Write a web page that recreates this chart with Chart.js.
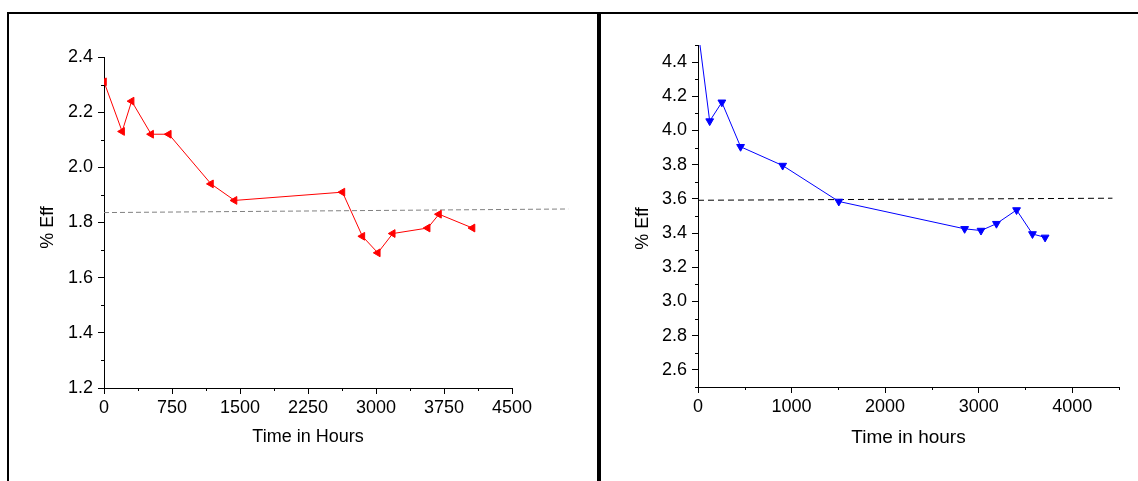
<!DOCTYPE html>
<html><head><meta charset="utf-8">
<script src="https://cdn.jsdelivr.net/npm/chart.js@4/dist/chart.umd.min.js"></script>
<style>
html,body{margin:0;padding:0;background:#fff;}
body{width:1138px;height:481px;position:relative;overflow:hidden;}
canvas{position:absolute;top:0;}
#c1{left:0;} #c2{left:600px;}
.ln{position:absolute;background:#000;}
</style></head><body>
<canvas id="c1" width="598" height="481"></canvas>
<canvas id="c2" width="538" height="481"></canvas>
<div class="ln" style="left:7px;top:12px;width:1131px;height:2px"></div>
<div class="ln" style="left:7px;top:12px;width:2px;height:469px"></div>
<div class="ln" style="left:597px;top:12px;width:4px;height:469px"></div>
<script>
// ---- Left chart data ----
const leftHours = [0, 200, 305, 520, 715, 1180, 1440, 2630, 2850, 3020, 3185, 3570, 3695, 4065];
const leftEff   = [2.31, 2.13, 2.24, 2.12, 2.12, 1.94, 1.88, 1.91, 1.75, 1.69, 1.76, 1.78, 1.83, 1.78];
const leftTrendHours = [0, 5120];
const leftTrendEff   = [1.836, 1.849];
const leftXTicks = [0, 750, 1500, 2250, 3000, 3750, 4500];
const leftXMinor = [375, 1125, 1875, 2625, 3375, 4125];
const leftYTicks = [1.2, 1.4, 1.6, 1.8, 2.0, 2.2, 2.4];
const leftYMinor = [1.3, 1.5, 1.7, 1.9, 2.1, 2.3];

// ---- Right chart data ----
const rightHours = [0, 125, 255, 455, 905, 1505, 2850, 3025, 3190, 3405, 3575, 3710];
const rightEff   = [4.59, 4.055, 4.165, 3.905, 3.795, 3.585, 3.425, 3.415, 3.455, 3.535, 3.395, 3.375];
const rightTrendHours = [0, 4430];
const rightTrendEff   = [3.592, 3.604];
const rightXTicks = [0, 1000, 2000, 3000, 4000];
const rightXMinor = [500, 1500, 2500, 3500, 4500];
const rightYTicks = [2.6, 2.8, 3.0, 3.2, 3.4, 3.6, 3.8, 4.0, 4.2, 4.4];
const rightYMinor = [2.5, 2.7, 2.9, 3.1, 3.3, 3.5, 3.7, 3.9, 4.1, 4.3, 4.5];

Chart.defaults.font.family = "'Liberation Sans', Arial, sans-serif";
Chart.defaults.color = '#000';

const pts = (xs, ys) => xs.map((x, i) => ({x: x, y: ys[i]}));

const minorTicks = {
  id: 'minorTicks',
  afterDraw(chart, args, opts) {
    const ctx = chart.ctx, a = chart.chartArea;
    const xs = chart.scales.x, ys = chart.scales.y;
    ctx.save();
    ctx.strokeStyle = '#000'; ctx.lineWidth = 1;
    ctx.beginPath();
    (opts.x || []).forEach(v => {
      const p = Math.round(xs.getPixelForValue(v)) + 0.5;
      ctx.moveTo(p, Math.round(a.bottom)); ctx.lineTo(p, Math.round(a.bottom) + opts.len);
    });
    (opts.y || []).forEach(v => {
      const p = Math.round(ys.getPixelForValue(v)) + 0.5;
      ctx.moveTo(Math.round(a.left) - opts.len, p); ctx.lineTo(Math.round(a.left), p);
    });
    ctx.stroke();
    ctx.restore();
  }
};

function makeChart(id, cfg) {
  return new Chart(document.getElementById(id), {
    type: 'scatter',
    data: {
      datasets: [
        {
          data: pts(cfg.hours, cfg.eff),
          showLine: true,
          borderColor: cfg.color,
          borderWidth: 1,
          backgroundColor: cfg.color,
          pointBackgroundColor: cfg.color,
          pointBorderColor: cfg.color,
          pointStyle: 'triangle',
          rotation: cfg.rotation,
          pointRadius: 4.5,
          pointBorderWidth: 1,
          tension: 0
        },
        {
          data: pts(cfg.trendHours, cfg.trendEff),
          showLine: true,
          borderColor: cfg.trendColor,
          borderWidth: 1,
          borderDash: cfg.dash,
          pointRadius: 0,
          clip: cfg.trendClip,
          tension: 0
        }
      ]
    },
    options: {
      responsive: false,
      animation: false,
      devicePixelRatio: 1,
      layout: { padding: cfg.padding },
      plugins: {
        legend: { display: false },
        tooltip: { enabled: false },
        minorTicks: { x: cfg.xMinor, y: cfg.yMinor, len: 3 }
      },
      scales: {
        x: {
          type: 'linear', position: 'bottom',
          min: cfg.xMin, max: cfg.xMax,
          afterBuildTicks: s => { s.ticks = cfg.xTicks.map(v => ({value: v})); },
          afterFit: s => { s.height = cfg.xHeight; },
          grid: { drawOnChartArea: false, drawTicks: true, tickLength: 6, tickColor: '#000' },
          border: { display: true, color: '#000', width: 1 },
          ticks: { autoSkip: false, maxRotation: 0, padding: 3, font: { size: 18 }, color: '#000',
                   callback: v => String(v) },
          title: { display: true, text: cfg.xTitle, font: { size: cfg.xTitleSize }, color: '#000', padding: 0 }
        },
        y: {
          type: 'linear', position: 'left',
          min: cfg.yMin, max: cfg.yMax,
          afterBuildTicks: s => { s.ticks = cfg.yTicks.map(v => ({value: v})); },
          afterFit: s => { s.width = cfg.yWidth; },
          grid: { drawOnChartArea: false, drawTicks: true, tickLength: 6, tickColor: '#000' },
          border: { display: true, color: '#000', width: 1 },
          ticks: { autoSkip: false, padding: 5, font: { size: 18 }, color: '#000',
                   callback: v => Number(v).toFixed(1) },
          title: { display: true, text: cfg.yTitle, font: { size: 18 }, color: '#000', padding: 0 }
        }
      }
    },
    plugins: [minorTicks]
  });
}

makeChart('c1', {
  hours: leftHours, eff: leftEff, color: '#ff0000', rotation: 270,
  trendHours: leftTrendHours, trendEff: leftTrendEff, trendColor: '#808080', dash: [5, 3], trendClip: false,
  xMin: 0, xMax: 4500, yMin: 1.2, yMax: 2.4,
  xTicks: leftXTicks, yTicks: leftYTicks, xMinor: leftXMinor, yMinor: leftYMinor,
  padding: { left: 37, top: 57, right: 86, bottom: 33 }, xHeight: 60, yWidth: 67,
  xTitle: 'Time in Hours', xTitleSize: 18, yTitle: '% Eff  '
});

makeChart('c2', {
  hours: rightHours, eff: rightEff, color: '#0000ff', rotation: 180,
  trendHours: rightTrendHours, trendEff: rightTrendEff, trendColor: '#000000', dash: [6, 4], trendClip: undefined,
  xMin: 0, xMax: 4500, yMin: 2.5, yMax: 4.5,
  xTicks: rightXTicks, yTicks: rightYTicks, xMinor: rightXMinor, yMinor: rightYMinor,
  padding: { left: 32, top: 45, right: 19, bottom: 32 }, xHeight: 62, yWidth: 66,
  xTitle: 'Time in hours', xTitleSize: 19, yTitle: '% Eff     '
});
</script>
</body></html>
